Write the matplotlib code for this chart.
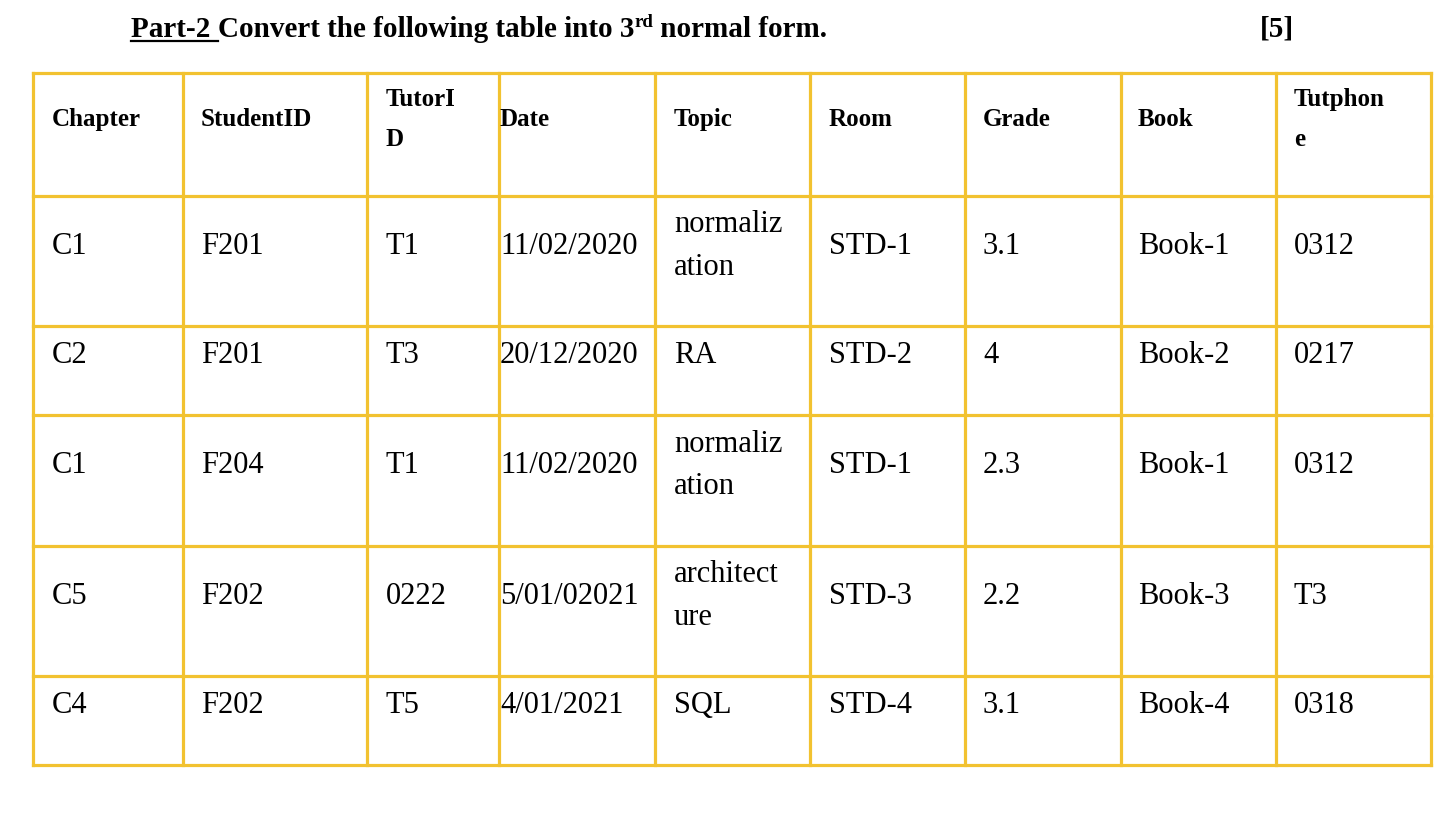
import matplotlib
matplotlib.use("Agg")
import matplotlib.pyplot as plt

# ── Table content ─────────────────────────────────────────────────────────────
headers = ["Chapter", "StudentID", "TutorI\nD", "Date", "Topic", "Room", "Grade", "Book", "Tutphon\ne"]
rows = [
    ["C1", "F201", "T1", "11/02/2020", "normaliz\nation", "STD-1", "3.1", "Book-1", "0312"],
    ["C2", "F201", "T3", "20/12/2020", "RA", "STD-2", "4", "Book-2", "0217"],
    ["C1", "F204", "T1", "11/02/2020", "normaliz\nation", "STD-1", "2.3", "Book-1", "0312"],
    ["C5", "F202", "0222", "5/01/02021", "architect\nure", "STD-3", "2.2", "Book-3", "T3"],
    ["C4", "F202", "T5", "4/01/2021", "SQL", "STD-4", "3.1", "Book-4", "0318"],
]

# ── Layout (pixels) ───────────────────────────────────────────────────────────
col_edges = [33, 183, 367, 499, 655, 810, 965, 1121, 1276, 1431]
row_edges = [73, 196, 326, 415, 546, 676, 765]
pad = [19, 18, 19, 1, 19, 19, 18, 17, 18]
LINE = "#F2C230"
SERIF = "Liberation Serif"

W, H = 1440, 839
fig = plt.figure(figsize=(W / 100, H / 100), dpi=100)
ax = fig.add_axes([0, 0, 1, 1])
ax.set_xlim(0, W)
ax.set_ylim(H, 0)
ax.axis("off")

for x in col_edges:
    ax.plot([x, x], [row_edges[0], row_edges[-1]], color=LINE, lw=2.3, solid_capstyle="projecting")
for y in row_edges:
    ax.plot([col_edges[0], col_edges[-1]], [y, y], color=LINE, lw=2.3, solid_capstyle="projecting")

all_rows = [headers] + rows
for r, cells in enumerate(all_rows):
    yc = (row_edges[r] + row_edges[r + 1]) / 2 - 15
    for c, txt in enumerate(cells):
        if r == 0:
            ax.text(col_edges[c] + pad[c], yc, txt, fontsize=18, fontweight="bold",
                    family=SERIF, va="center", ha="left", linespacing=1.9)
        else:
            ax.text(col_edges[c] + pad[c], yc, txt, fontsize=22, family=SERIF,
                    va="center", ha="left", linespacing=1.6)

# ── Title with underline and superscript ──────────────────────────────────────
fig.canvas.draw()
renderer = fig.canvas.get_renderer()
inv = ax.transData.inverted()

def put(x, y, s, size=21, **kw):
    t = ax.text(x, y, s, fontsize=size, fontweight="bold", family=SERIF,
                va="baseline", ha="left", **kw)
    bb = t.get_window_extent(renderer)
    return inv.transform((bb.x1, 0))[0]

base = 37
x = put(131, base, "Part-2 ")
ax.plot([131, x], [base + 4, base + 4], color="black", lw=1.6)
x = put(x, base, "Convert the following table into 3")
x = put(x, base - 10, "rd", size=13.5)
put(x, base, " normal form.")
put(1260, base, "[5]")

fig.savefig("out.png", dpi=100, facecolor="white")
